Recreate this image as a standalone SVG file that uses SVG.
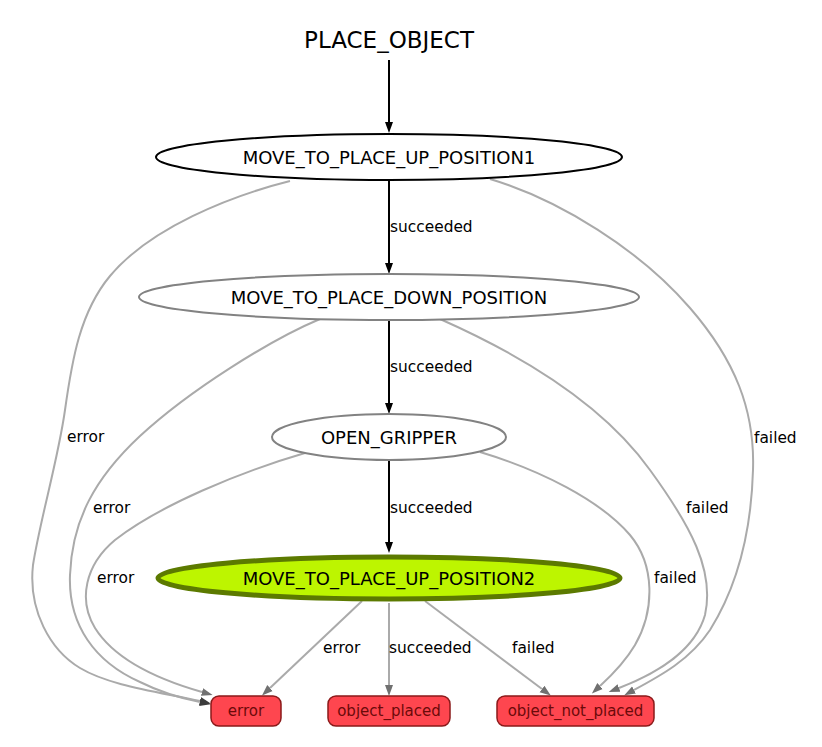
<svg xmlns="http://www.w3.org/2000/svg" width="822" height="747" viewBox="0 0 822 747">
<defs>
<style>
.nl{font-family:"DejaVu Sans",sans-serif;font-size:18px;fill:#000;text-anchor:middle}
.el{font-family:"DejaVu Sans",sans-serif;font-size:15.4px;fill:#000}
.tl{font-family:"DejaVu Sans",sans-serif;font-size:15px;fill:#6b0a0a;text-anchor:middle}
.title{font-family:"DejaVu Sans",sans-serif;font-size:23px;fill:#000;text-anchor:middle}
.blk{fill:none;stroke:#000;stroke-width:2;marker-end:url(#ab)}
.gry{fill:none;stroke:#aaaaaa;stroke-width:2;marker-end:url(#ag)}
.gryd{fill:none;stroke:#aaaaaa;stroke-width:2;marker-end:url(#ad)}
.term{fill:#fe464f;stroke:#8b1a1a;stroke-width:1.5}
</style>
<marker id="ab" markerUnits="userSpaceOnUse" markerWidth="12" markerHeight="10" refX="0" refY="4" orient="auto" viewBox="0 0 12 8">
<path d="M0,0 L11,4 L0,8 z" fill="#000"/>
</marker>
<marker id="ag" markerUnits="userSpaceOnUse" markerWidth="12" markerHeight="10" refX="0" refY="4" orient="auto" viewBox="0 0 12 8">
<path d="M0,0 L11,4 L0,8 z" fill="#707070"/>
</marker>
<marker id="ad" markerUnits="userSpaceOnUse" markerWidth="12" markerHeight="10" refX="0" refY="4" orient="auto" viewBox="0 0 12 8">
<path d="M0,0 L11,4 L0,8 z" fill="#3c3c3c"/>
</marker>
</defs>
<rect width="822" height="747" fill="#fff"/>
<text class="title" x="389" y="48">PLACE_OBJECT</text>
<g id="connectors">
<path class="blk" d="M389,60 L389,122"/>
<path class="blk" d="M389,181 L389,263"/>
<path class="blk" d="M389,321 L389,403"/>
<path class="blk" d="M389,460 L389,542"/>
<path class="gry" d="M389,603 L389,685"/>
<path class="gry" d="M362,601 L270,688"/>
<path class="gry" d="M425,601 L542,689"/>
<path class="gryd" d="M290,181 C230,196 150,228 110,276 C80,312 72,360 65,410 C58,460 40,520 33,565 C28,610 50,650 80,668 C110,686 160,692 200,701"/>
<path class="gryd" d="M320,319 C270,340 190,390 140,436 C95,478 72,520 70,575 C68,625 95,662 140,682 C160,692 180,698 200,702"/>
<path class="gry" d="M305,453 C240,472 160,505 115,540 C85,565 78,600 95,628 C115,660 160,680 202,692"/>
<path class="gry" d="M490,179 C560,200 640,250 690,308 C735,360 755,410 753,470 C751,540 735,590 710,630 C690,660 660,676 634,690"/>
<path class="gry" d="M440,319 C510,350 600,400 650,470 C690,525 715,570 705,615 C695,650 660,672 619,688"/>
<path class="gry" d="M480,452 C540,470 600,500 630,535 C655,565 655,610 635,645 C625,662 612,675 600,686"/>
<text class="el" x="390" y="232">succeeded</text>
<text class="el" x="390" y="372">succeeded</text>
<text class="el" x="390" y="513">succeeded</text>
<text class="el" x="389" y="653">succeeded</text>
<text class="el" x="323" y="653">error</text>
<text class="el" x="512" y="653">failed</text>
<text class="el" x="67" y="442">error</text>
<text class="el" x="93" y="513">error</text>
<text class="el" x="97" y="583">error</text>
<text class="el" x="754" y="443">failed</text>
<text class="el" x="686" y="513">failed</text>
<text class="el" x="654" y="583">failed</text>
</g>
<g id="MOVE_TO_PLACE_UP_POSITION1">
<ellipse cx="389" cy="157" rx="233" ry="23" fill="#fff" stroke="#000" stroke-width="2"/>
<text class="nl" x="389" y="163.5">MOVE_TO_PLACE_UP_POSITION1</text>
</g>
<g id="MOVE_TO_PLACE_DOWN_POSITION">
<ellipse cx="389" cy="297" rx="250" ry="23" fill="#fff" stroke="#828282" stroke-width="2"/>
<text class="nl" x="389" y="303.5">MOVE_TO_PLACE_DOWN_POSITION</text>
</g>
<g id="OPEN_GRIPPER">
<ellipse cx="389" cy="437" rx="117" ry="23" fill="#fff" stroke="#828282" stroke-width="2"/>
<text class="nl" x="389" y="443.5">OPEN_GRIPPER</text>
</g>
<g id="MOVE_TO_PLACE_UP_POSITION2">
<ellipse cx="389" cy="578" rx="231" ry="21" fill="#bdf500" stroke="#5c7a00" stroke-width="5"/>
<text class="nl" x="389" y="584.5">MOVE_TO_PLACE_UP_POSITION2</text>
</g>
<g id="error">
<rect class="term" x="211" y="696" width="70" height="30" rx="8"/>
<text class="tl" x="246" y="716">error</text>
</g>
<g id="object_placed">
<rect class="term" x="328" y="696" width="122" height="30" rx="8"/>
<text class="tl" x="389" y="716">object_placed</text>
</g>
<g id="object_not_placed">
<rect class="term" x="497" y="696" width="157" height="30" rx="8"/>
<text class="tl" x="575.5" y="716">object_not_placed</text>
</g>
</svg>
